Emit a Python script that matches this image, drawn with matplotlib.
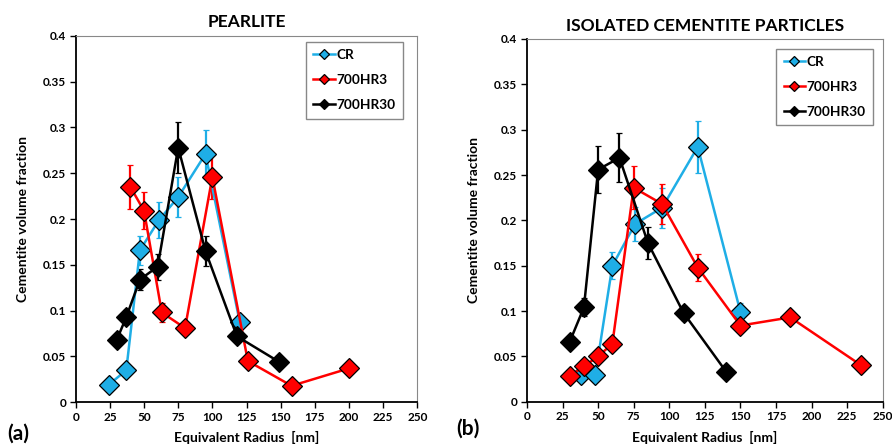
import matplotlib.pyplot as plt

plt.rcParams['font.family'] = ['Lato', 'DejaVu Sans']
plt.rcParams['font.weight'] = 'bold'

# colori delle serie
c_cr = '#1FAEE6'
c_hr3 = '#FF0000'
c_hr30 = '#000000'
labels = ['CR', '700HR3', '700HR30']

# (a) perlite
a_cr_x = [24, 37, 47, 61, 75, 95, 120]
a_cr_y = [0.019, 0.035, 0.166, 0.199, 0.224, 0.271, 0.088]
a_cr_e = [0.003, 0.004, 0.016, 0.020, 0.022, 0.026, 0.006]

a_hr3_x = [40, 50, 63, 80, 100, 126, 158, 200]
a_hr3_y = [0.235, 0.209, 0.098, 0.081, 0.246, 0.045, 0.018, 0.037]
a_hr3_e = [0.024, 0.020, 0.010, 0.005, 0.024, 0.004, 0.003, 0.003]

a_hr30_x = [30, 37, 47, 60, 75, 95, 118, 149]
a_hr30_y = [0.068, 0.093, 0.134, 0.148, 0.278, 0.165, 0.072, 0.044]
a_hr30_e = [0.004, 0.008, 0.011, 0.014, 0.028, 0.016, 0.005, 0.003]

# (b) particelle isolate
b_cr_x = [38, 48, 60, 76, 95, 120, 150]
b_cr_y = [0.030, 0.029, 0.150, 0.196, 0.214, 0.281, 0.099]
b_cr_e = [0.003, 0.003, 0.015, 0.019, 0.022, 0.029, 0.010]

b_hr3_x = [30, 40, 50, 60, 75, 95, 120, 150, 185, 235]
b_hr3_y = [0.028, 0.039, 0.050, 0.064, 0.236, 0.218, 0.148, 0.084, 0.093, 0.040]
b_hr3_e = [0.003, 0.004, 0.004, 0.005, 0.024, 0.022, 0.015, 0.005, 0.007, 0.003]

b_hr30_x = [30, 40, 50, 65, 85, 110, 140]
b_hr30_y = [0.066, 0.104, 0.256, 0.269, 0.175, 0.098, 0.033]
b_hr30_e = [0.004, 0.010, 0.026, 0.027, 0.018, 0.008, 0.003]

panels = [
    ([0.0849, 0.100, 0.3829, 0.820], 'PEARLITE', '(a)', -0.085,
     [(a_cr_x, a_cr_y, a_cr_e, c_cr), (a_hr3_x, a_hr3_y, a_hr3_e, c_hr3),
      (a_hr30_x, a_hr30_y, a_hr30_e, c_hr30)], (0.97, 0.995)),
    ([0.5908, 0.1013, 0.3988, 0.8115], 'ISOLATED CEMENTITE PARTICLES', '(b)', -0.075,
     [(b_cr_x, b_cr_y, b_cr_e, c_cr), (b_hr3_x, b_hr3_y, b_hr3_e, c_hr3),
      (b_hr30_x, b_hr30_y, b_hr30_e, c_hr30)], (0.985, 0.985)),
]

fig = plt.figure(figsize=(8.92, 4.47), dpi=100)

for rect, title, tag, tag_y, series, leg_pos in panels:
    ax = fig.add_axes(rect)
    handles = []
    for (x, y, e, col), lab in zip(series, labels):
        cont = ax.errorbar(x, y, yerr=e, color=col, lw=1.8, elinewidth=1.6, capsize=2.5,
                           capthick=1.6, marker='D', ms=10, mfc=col, mec='black',
                           mew=0.9, label=lab)
        handles.append(cont[0])
    ax.set_xlim(0, 250)
    ax.set_ylim(0, 0.4)
    ax.set_xticks(range(0, 251, 25))
    ax.set_yticks([0, 0.05, 0.1, 0.15, 0.2, 0.25, 0.3, 0.35, 0.4])
    ax.set_yticklabels(['0', '0.05', '0.1', '0.15', '0.2', '0.25', '0.3', '0.35', '0.4'])
    ax.tick_params(direction='out', length=4, width=1, labelsize=8.5, pad=3)
    for s in ['top', 'right']:
        ax.spines[s].set_color('#888888')
        ax.spines[s].set_linewidth(0.8)
    for s in ['left', 'bottom']:
        ax.spines[s].set_linewidth(1.3)
    ax.set_title(title, fontsize=12.5, fontweight='bold', pad=6)
    ax.set_xlabel('Equivalent Radius  [nm]', fontsize=10, fontweight='bold', labelpad=6)
    ax.set_ylabel('Cementite volume fraction', fontsize=10, fontweight='bold', labelpad=10)
    leg = ax.legend(handles, labels, loc='upper right', bbox_to_anchor=leg_pos,
                    fontsize=9.8, markerscale=0.55, handlelength=1.6, fancybox=False,
                    edgecolor='#888888', framealpha=1, borderpad=0.55,
                    labelspacing=0.95, handletextpad=0.1, borderaxespad=0.3)
    leg.get_frame().set_linewidth(1.0)
    ax.text(-0.2, tag_y, tag, transform=ax.transAxes, fontsize=15,
            fontweight='bold', ha='left', va='center')

fig.savefig('out.png', dpi=100)
